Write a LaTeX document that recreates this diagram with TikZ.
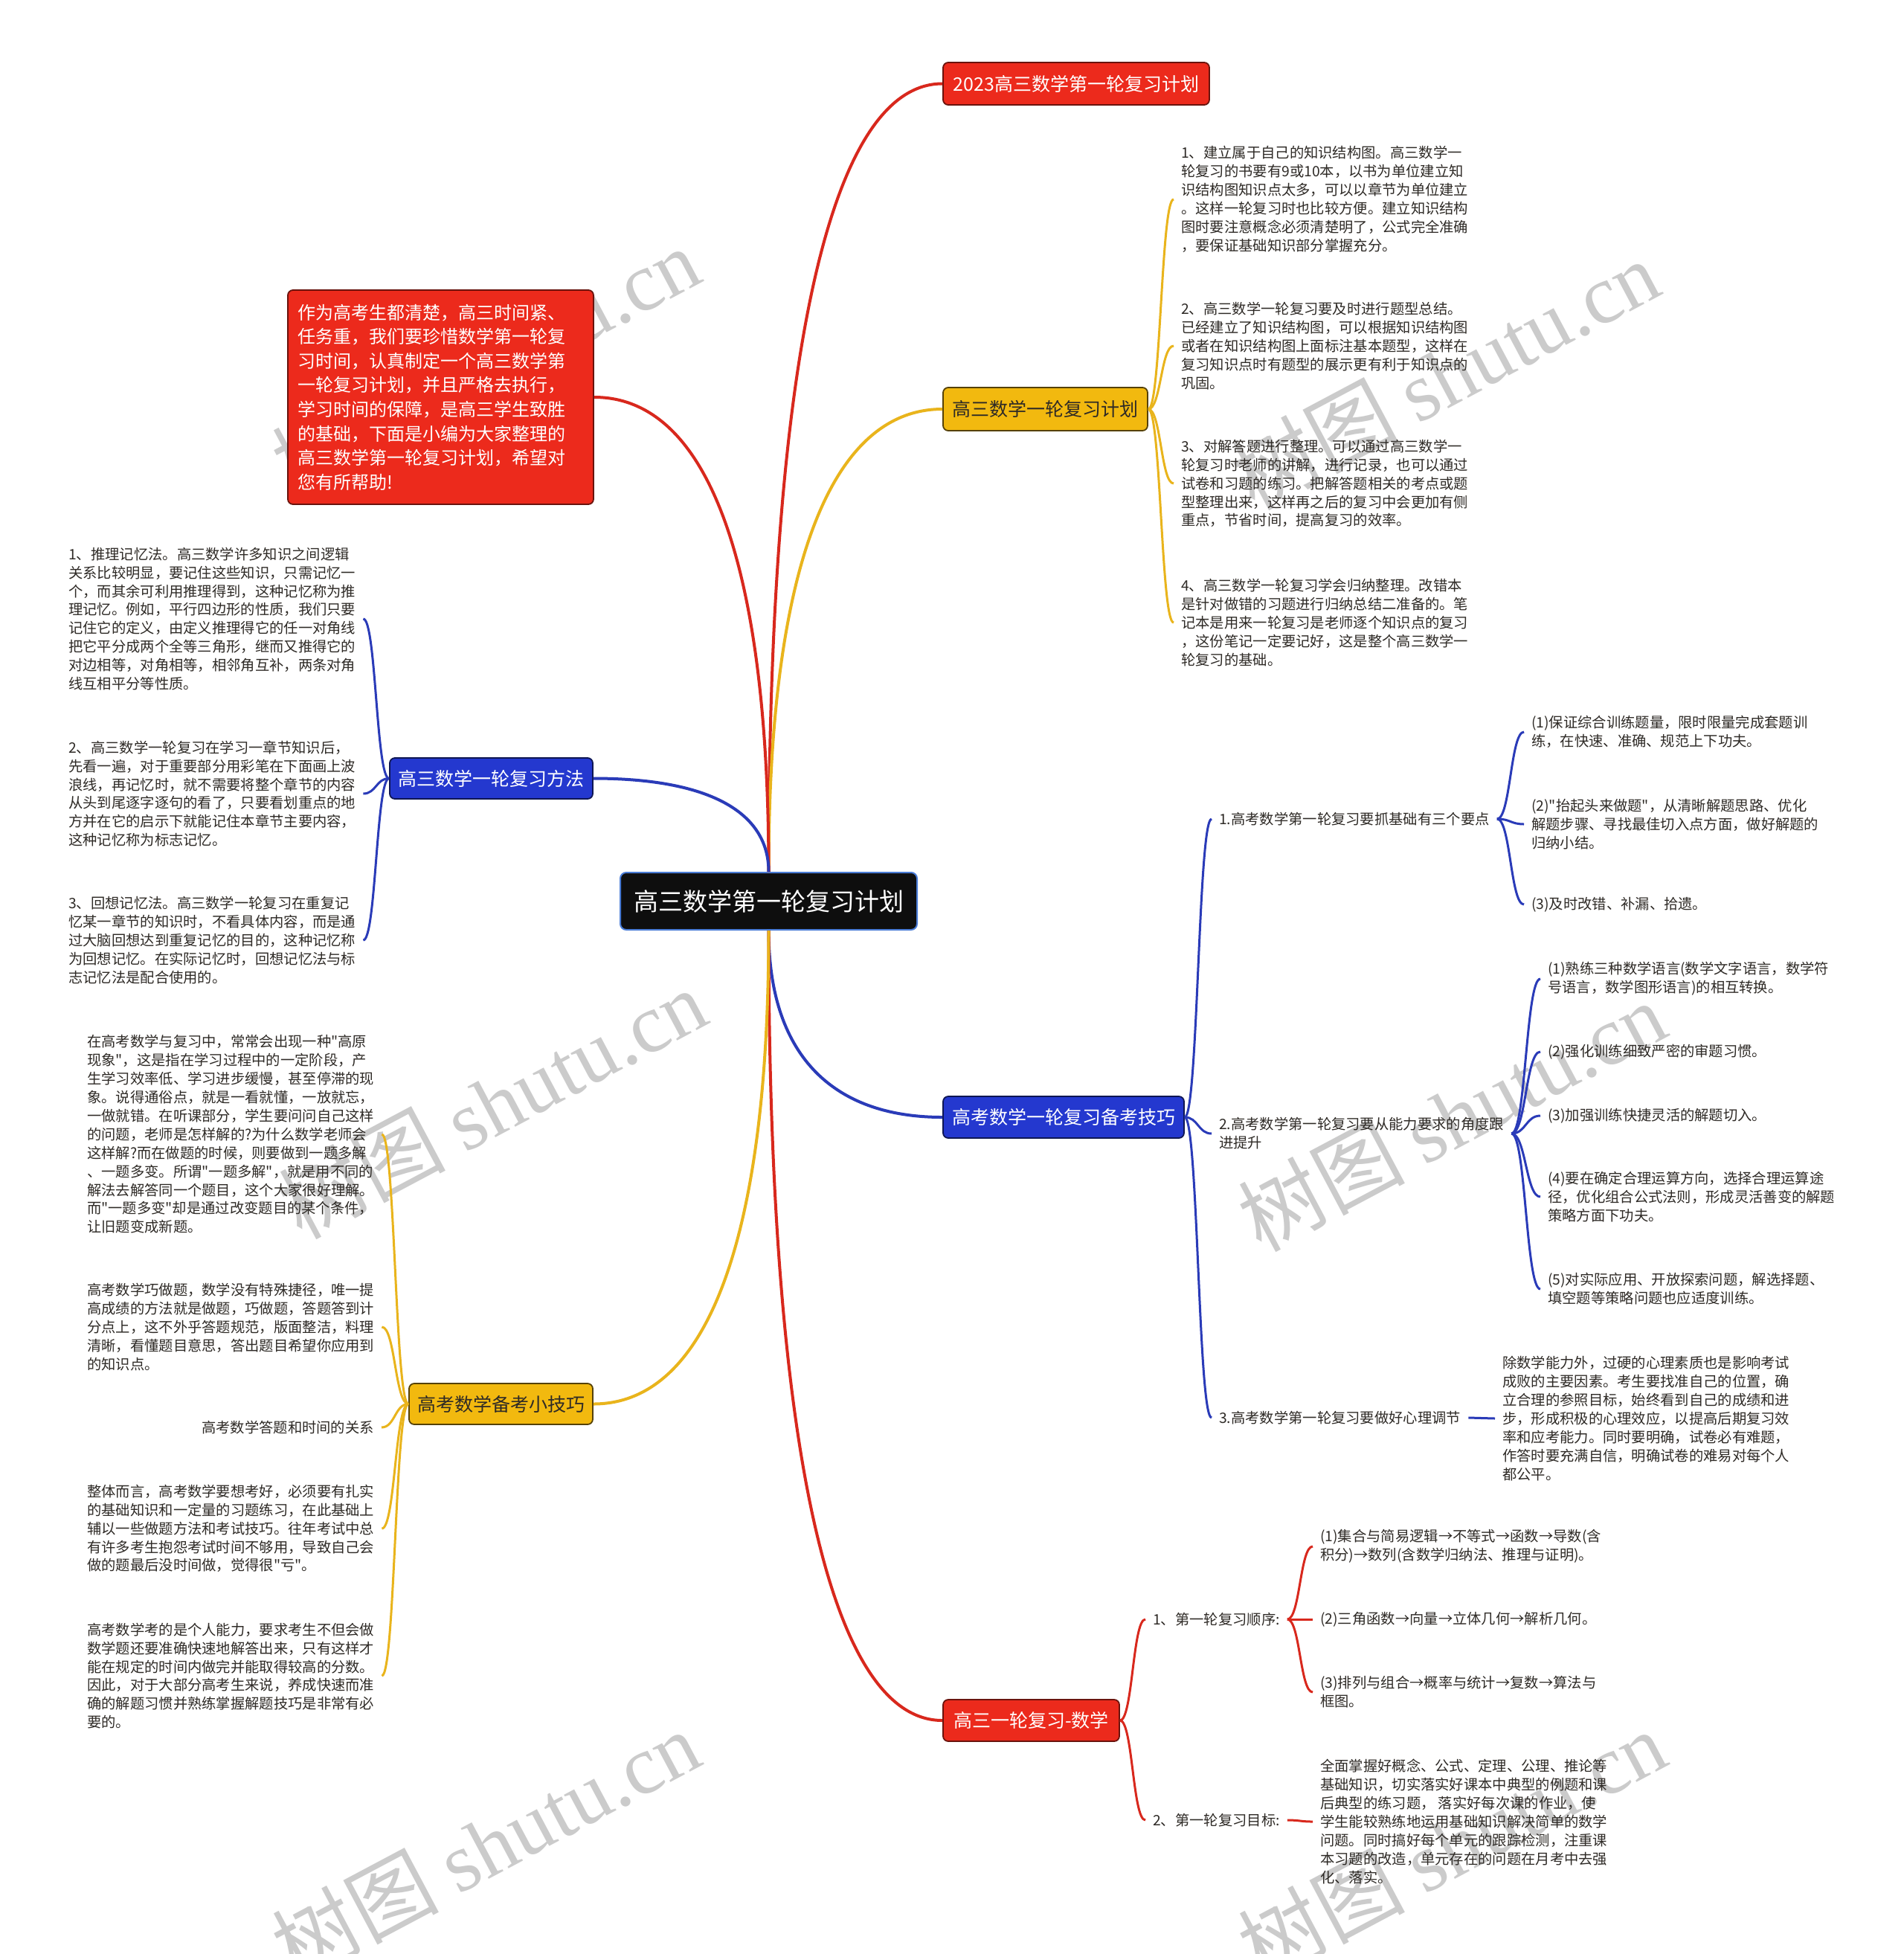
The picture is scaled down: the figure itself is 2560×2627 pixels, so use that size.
\documentclass[tikz,border=0pt]{standalone}
\usepackage{fontspec}
\setmainfont{Noto Sans CJK SC}[Ligatures=TeXOff]
\newfontfamily\wmserif{Liberation Serif}
\usetikzlibrary{calc}
\definecolor{cred}{HTML}{EC2A1C}
\definecolor{cyel}{HTML}{F2B90F}
\definecolor{cblue}{HTML}{2438CF}
\definecolor{lred}{HTML}{D8281D}
\definecolor{lyel}{HTML}{E9B41C}
\definecolor{lblue}{HTML}{2A3BB8}
\definecolor{leafc}{HTML}{2E2A26}
\definecolor{wmc}{HTML}{CBCBCB}
\definecolor{cborder}{HTML}{4A7CD6}
\definecolor{cfill}{HTML}{0E0E0E}
\newcommand\leaffont{\fontsize{19.3}{24.9}\selectfont}
\newcommand\brfont{\fontsize{25}{30}\selectfont}
\newcommand\mlink[3]{\draw[#1, line width=4pt] let \p1=(#2), \p2=(#3) in (\p1) .. controls (\x1,{\y1+0.65*(\y2-\y1)}) and ({\x1+0.35*(\x2-\x1)},\y2) .. (\p2);}
\newcommand\slink[3]{\draw[#1, line width=3pt] let \p1=(#2), \p2=(#3) in (\p1) .. controls ({0.5*(\x1+\x2)},\y1) and ({0.5*(\x1+\x2)},\y2) .. (\p2);}
\tikzset{
  leaf/.style={inner xsep=10pt, inner ysep=0pt, align=left, font=\leaffont, text=leafc, anchor=west},
  brbox/.style={rounded corners=7pt, line width=1.8pt, inner sep=0pt, font=\brfont},
  redbox/.style={brbox, fill=cred, draw=cred!45!black, text=white},
  yelbox/.style={brbox, fill=cyel, draw=cyel!35!black, text=leafc},
  bluebox/.style={brbox, fill=cblue, draw=cblue!40!black, text=white},
  wmark/.style={text=wmc, font=\fontsize{112}{120}\selectfont, rotate=28, inner sep=0pt}
}
\begin{document}
\begin{tikzpicture}[x=1pt,y=-1pt]
\useasboundingbox (0,0) rectangle (2560,2627);
\fill[white] (0,0) rectangle (2560,2627);
% watermarks
\node[wmark] (w1) at (653,486) {树图 {\wmserif shutu.cn}};
\node[wmark] (w2) at (1943,503) {树图 {\wmserif shutu.cn}};
\node[wmark] (w3) at (662,1483) {树图 {\wmserif shutu.cn}};
\node[wmark] (w4) at (1952,1500) {树图 {\wmserif shutu.cn}};
\node[wmark] (w5) at (653,2480) {树图 {\wmserif shutu.cn}};
\node[wmark] (w6) at (1952,2480) {树图 {\wmserif shutu.cn}};
% center
\node[fill=cfill, draw=cborder, line width=2pt, rounded corners=8pt, minimum width=399pt, minimum height=77pt, inner sep=0pt, text=white, font=\fontsize{33}{40}\selectfont] (c) at (1033.5,1211.5) {高三数学第一轮复习计划};
% branch boxes
\node[redbox, minimum width=358pt, minimum height=57pt] (b2023) at (1447,112.5) {2023高三数学第一轮复习计划};
\node[yelbox, minimum width=275pt, minimum height=58pt] (bplan) at (1405.5,550) {高三数学一轮复习计划};
\node[bluebox, minimum width=324pt, minimum height=56pt] (btips) at (1430,1502) {高考数学一轮复习备考技巧};
\node[redbox, minimum width=237pt, minimum height=56pt] (bmath) at (1386.5,2313) {高三一轮复习-数学};
\node[redbox, minimum width=411pt, minimum height=288pt, text width=385pt, align=left, font=\fontsize{24}{32.6}\selectfont] (bintro) at (592.5,534) {作为高考生都清楚，高三时间紧、\\任务重，我们要珍惜数学第一轮复\\习时间，认真制定一个高三数学第\\一轮复习计划，并且严格去执行，\\学习时间的保障，是高三学生致胜\\的基础，下面是小编为大家整理的\\高三数学第一轮复习计划，希望对\\您有所帮助!};
\node[bluebox, minimum width=273pt, minimum height=55pt] (bmethod) at (660.5,1046.5) {高三数学一轮复习方法};
\node[yelbox, minimum width=247pt, minimum height=55pt] (bskill) at (673.5,1887.5) {高考数学备考小技巧};
% plan leaves
\node[leaf] (p1) at (1578,268) {1、建立属于自己的知识结构图。高三数学一\\轮复习的书要有9或10本，以书为单位建立知\\识结构图知识点太多，可以以章节为单位建立\\。这样一轮复习时也比较方便。建立知识结构\\图时要注意概念必须清楚明了，公式完全准确\\，要保证基础知识部分掌握充分。};
\node[leaf] (p2) at (1578,465) {2、高三数学一轮复习要及时进行题型总结。\\已经建立了知识结构图，可以根据知识结构图\\或者在知识结构图上面标注基本题型，这样在\\复习知识点时有题型的展示更有利于知识点的\\巩固。};
\node[leaf] (p3) at (1578,650) {3、对解答题进行整理。可以通过高三数学一\\轮复习时老师的讲解，进行记录，也可以通过\\试卷和习题的练习。把解答题相关的考点或题\\型整理出来，这样再之后的复习中会更加有侧\\重点，节省时间，提高复习的效率。};
\node[leaf] (p4) at (1578,837) {4、高三数学一轮复习学会归纳整理。改错本\\是针对做错的习题进行归纳总结二准备的。笔\\记本是用来一轮复习是老师逐个知识点的复习\\，这份笔记一定要记好，这是整个高三数学一\\轮复习的基础。};
% tips leaves
\node[leaf] (t1) at (1629,1101) {1.高考数学第一轮复习要抓基础有三个要点};
\node[leaf] (t2) at (1629,1524) {2.高考数学第一轮复习要从能力要求的角度跟\\进提升};
\node[leaf] (t3) at (1629,1906) {3.高考数学第一轮复习要做好心理调节};
\node[leaf] (t1a) at (2049,984) {(1)保证综合训练题量，限时限量完成套题训\\练，在快速、准确、规范上下功夫。};
\node[leaf] (t1b) at (2049,1108) {(2)"抬起头来做题"，从清晰解题思路、优化\\解题步骤、寻找最佳切入点方面，做好解题的\\归纳小结。};
\node[leaf] (t1c) at (2049,1216) {(3)及时改错、补漏、拾遗。};
\node[leaf] (t2a) at (2071,1316) {(1)熟练三种数学语言(数学文字语言，数学符\\号语言，数学图形语言)的相互转换。};
\node[leaf] (t2b) at (2071,1414) {(2)强化训练细致严密的审题习惯。};
\node[leaf] (t2c) at (2071,1500) {(3)加强训练快捷灵活的解题切入。};
\node[leaf] (t2d) at (2071,1609) {(4)要在确定合理运算方向，选择合理运算途\\径，优化组合公式法则，形成灵活善变的解题\\策略方面下功夫。};
\node[leaf] (t2e) at (2071,1733) {(5)对实际应用、开放探索问题，解选择题、\\填空题等策略问题也应适度训练。};
\node[leaf] (t3a) at (2010,1907) {除数学能力外，过硬的心理素质也是影响考试\\成败的主要因素。考生要找准自己的位置，确\\立合理的参照目标，始终看到自己的成绩和进\\步，形成积极的心理效应，以提高后期复习效\\率和应考能力。同时要明确，试卷必有难题，\\作答时要充满自信，明确试卷的难易对每个人\\都公平。};
% math leaves
\node[leaf] (r1) at (1540,2177) {1、第一轮复习顺序:};
\node[leaf] (r2) at (1540,2447) {2、第一轮复习目标:};
\node[leaf] (r1a) at (1765,2079) {(1)集合与简易逻辑→不等式→函数→导数(含\\积分)→数列(含数学归纳法、推理与证明)。};
\node[leaf] (r1b) at (1765,2177) {(2)三角函数→向量→立体几何→解析几何。};
\node[leaf] (r1c) at (1765,2275) {(3)排列与组合→概率与统计→复数→算法与\\框图。};
\node[leaf] (r2a) at (1765,2449) {全面掌握好概念、公式、定理、公理、推论等\\基础知识，切实落实好课本中典型的例题和课\\后典型的练习题， 落实好每次课的作业，使\\学生能较熟练地运用基础知识解决简单的数学\\问题。同时搞好每个单元的跟踪检测，注重课\\本习题的改造，单元存在的问题在月考中去强\\化、落实。};
% method leaves
\node[leaf] (m1) at (82,832) {1、推理记忆法。高三数学许多知识之间逻辑\\关系比较明显，要记住这些知识，只需记忆一\\个，而其余可利用推理得到，这种记忆称为推\\理记忆。例如，平行四边形的性质，我们只要\\记住它的定义，由定义推理得它的任一对角线\\把它平分成两个全等三角形，继而又推得它的\\对边相等，对角相等，相邻角互补，两条对角\\线互相平分等性质。};
\node[leaf] (m2) at (82,1067) {2、高三数学一轮复习在学习一章节知识后，\\先看一遍，对于重要部分用彩笔在下面画上波\\浪线，再记忆时，就不需要将整个章节的内容\\从头到尾逐字逐句的看了，只要看划重点的地\\方并在它的启示下就能记住本章节主要内容，\\这种记忆称为标志记忆。};
\node[leaf] (m3) at (82,1264) {3、回想记忆法。高三数学一轮复习在重复记\\忆某一章节的知识时，不看具体内容，而是通\\过大脑回想达到重复记忆的目的，这种记忆称\\为回想记忆。在实际记忆时，回想记忆法与标\\志记忆法是配合使用的。};
% skill leaves
\node[leaf] (s1) at (107,1525) {在高考数学与复习中，常常会出现一种"高原\\现象"，这是指在学习过程中的一定阶段，产\\生学习效率低、学习进步缓慢，甚至停滞的现\\象。说得通俗点，就是一看就懂，一放就忘，\\一做就错。在听课部分，学生要问问自己这样\\的问题，老师是怎样解的?为什么数学老师会\\这样解?而在做题的时候，则要做到一题多解\\、一题多变。所谓"一题多解"，就是用不同的\\解法去解答同一个题目，这个大家很好理解。\\而"一题多变"却是通过改变题目的某个条件，\\让旧题变成新题。};
\node[leaf] (s2) at (107,1784) {高考数学巧做题，数学没有特殊捷径，唯一提\\高成绩的方法就是做题，巧做题，答题答到计\\分点上，这不外乎答题规范，版面整洁，料理\\清晰，看懂题目意思，答出题目希望你应用到\\的知识点。};
\node[leaf, anchor=east] (s3) at (513,1919) {高考数学答题和时间的关系};
\node[leaf] (s4) at (107,2055) {整体而言，高考数学要想考好，必须要有扎实\\的基础知识和一定量的习题练习，在此基础上\\辅以一些做题方法和考试技巧。往年考试中总\\有许多考生抱怨考试时间不够用，导致自己会\\做的题最后没时间做，觉得很"亏"。};
\node[leaf] (s5) at (107,2253) {高考数学考的是个人能力，要求考生不但会做\\数学题还要准确快速地解答出来，只有这样才\\能在规定的时间内做完并能取得较高的分数。\\因此，对于大部分高考生来说，养成快速而准\\确的解题习惯并熟练掌握解题技巧是非常有必\\要的。};
% main connectors
\mlink{lred}{c.north}{b2023.west}
\mlink{lyel}{c.north}{bplan.west}
\mlink{lblue}{c.south}{btips.west}
\mlink{lred}{c.south}{bmath.west}
\mlink{lred}{c.north}{bintro.east}
\mlink{lblue}{c.north}{bmethod.east}
\mlink{lyel}{c.south}{bskill.east}
% sub connectors
\slink{lyel}{bplan.east}{p1.west}
\slink{lyel}{bplan.east}{p2.west}
\slink{lyel}{bplan.east}{p3.west}
\slink{lyel}{bplan.east}{p4.west}
\slink{lblue}{btips.east}{t1.west}
\slink{lblue}{btips.east}{t2.west}
\slink{lblue}{btips.east}{t3.west}
\slink{lblue}{t1.east}{t1a.west}
\slink{lblue}{t1.east}{t1b.west}
\slink{lblue}{t1.east}{t1c.west}
\slink{lblue}{t2.east}{t2a.west}
\slink{lblue}{t2.east}{t2b.west}
\slink{lblue}{t2.east}{t2c.west}
\slink{lblue}{t2.east}{t2d.west}
\slink{lblue}{t2.east}{t2e.west}
\slink{lblue}{t3.east}{t3a.west}
\slink{lred}{bmath.east}{r1.west}
\slink{lred}{bmath.east}{r2.west}
\slink{lred}{r1.east}{r1a.west}
\slink{lred}{r1.east}{r1b.west}
\slink{lred}{r1.east}{r1c.west}
\slink{lred}{r2.east}{r2a.west}
\slink{lblue}{bmethod.west}{m1.east}
\slink{lblue}{bmethod.west}{m2.east}
\slink{lblue}{bmethod.west}{m3.east}
\slink{lyel}{bskill.west}{s1.east}
\slink{lyel}{bskill.west}{s2.east}
\slink{lyel}{bskill.west}{s3.east}
\slink{lyel}{bskill.west}{s4.east}
\slink{lyel}{bskill.west}{s5.east}
\end{tikzpicture}
\end{document}
